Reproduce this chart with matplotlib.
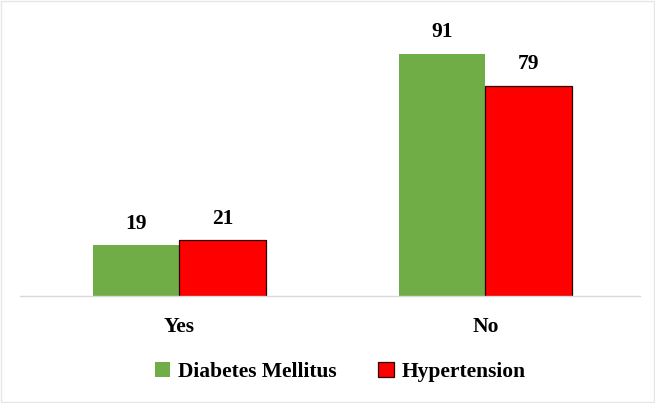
import numpy as np
import matplotlib.pyplot as plt
from matplotlib.patches import Rectangle

categories = ["Yes", "No"]
diabetes = [19, 91]
hypertension = [21, 79]

plt.rcParams["font.family"] = ["Liberation Serif", "DejaVu Serif"]
plt.rcParams["font.weight"] = "bold"

fig = plt.figure(figsize=(6.55, 4.03), dpi=100)
ax = fig.add_axes([0.031, 0.266, 0.946, 0.66])

x = np.arange(len(categories))
w = 0.284
b1 = ax.bar(x - w / 2, diabetes, w, color="#70AD47", label="Diabetes Mellitus")
b2 = ax.bar(x + w / 2, hypertension, w, color="#FF0000", edgecolor="#2a0000",
            linewidth=0.9, label="Hypertension")

for bars, vals in [(b1, diabetes), (b2, hypertension)]:
    for r, v in zip(bars, vals):
        ax.text(r.get_x() + r.get_width() / 2, v + 4.3, str(v), ha="center",
                va="bottom", fontsize=15.5, fontweight="bold")

ax.set_xlim(-0.52, 1.505)
ax.set_ylim(0, 100)
ax.set_xticks(x)
ax.set_xticklabels(categories, fontsize=15.5, fontweight="bold")
ax.tick_params(axis="x", length=0, pad=15)
ax.set_yticks([])
for s in ["top", "right", "left"]:
    ax.spines[s].set_visible(False)
ax.spines["bottom"].set_color("#d9d9d9")
ax.spines["bottom"].set_linewidth(1.0)

leg = fig.legend(loc="center", bbox_to_anchor=(0.519, 0.077), ncol=2, frameon=False,
                 handlelength=0.72, handleheight=0.65, handletextpad=0.35,
                 columnspacing=1.95, prop={"weight": "bold", "size": 15.5})

fig.patches.append(Rectangle((0.002, 0.002), 0.996, 0.996, transform=fig.transFigure,
                             fill=False, edgecolor="#e6e6e6", linewidth=1.0))

plt.savefig("out.png", dpi=100)
